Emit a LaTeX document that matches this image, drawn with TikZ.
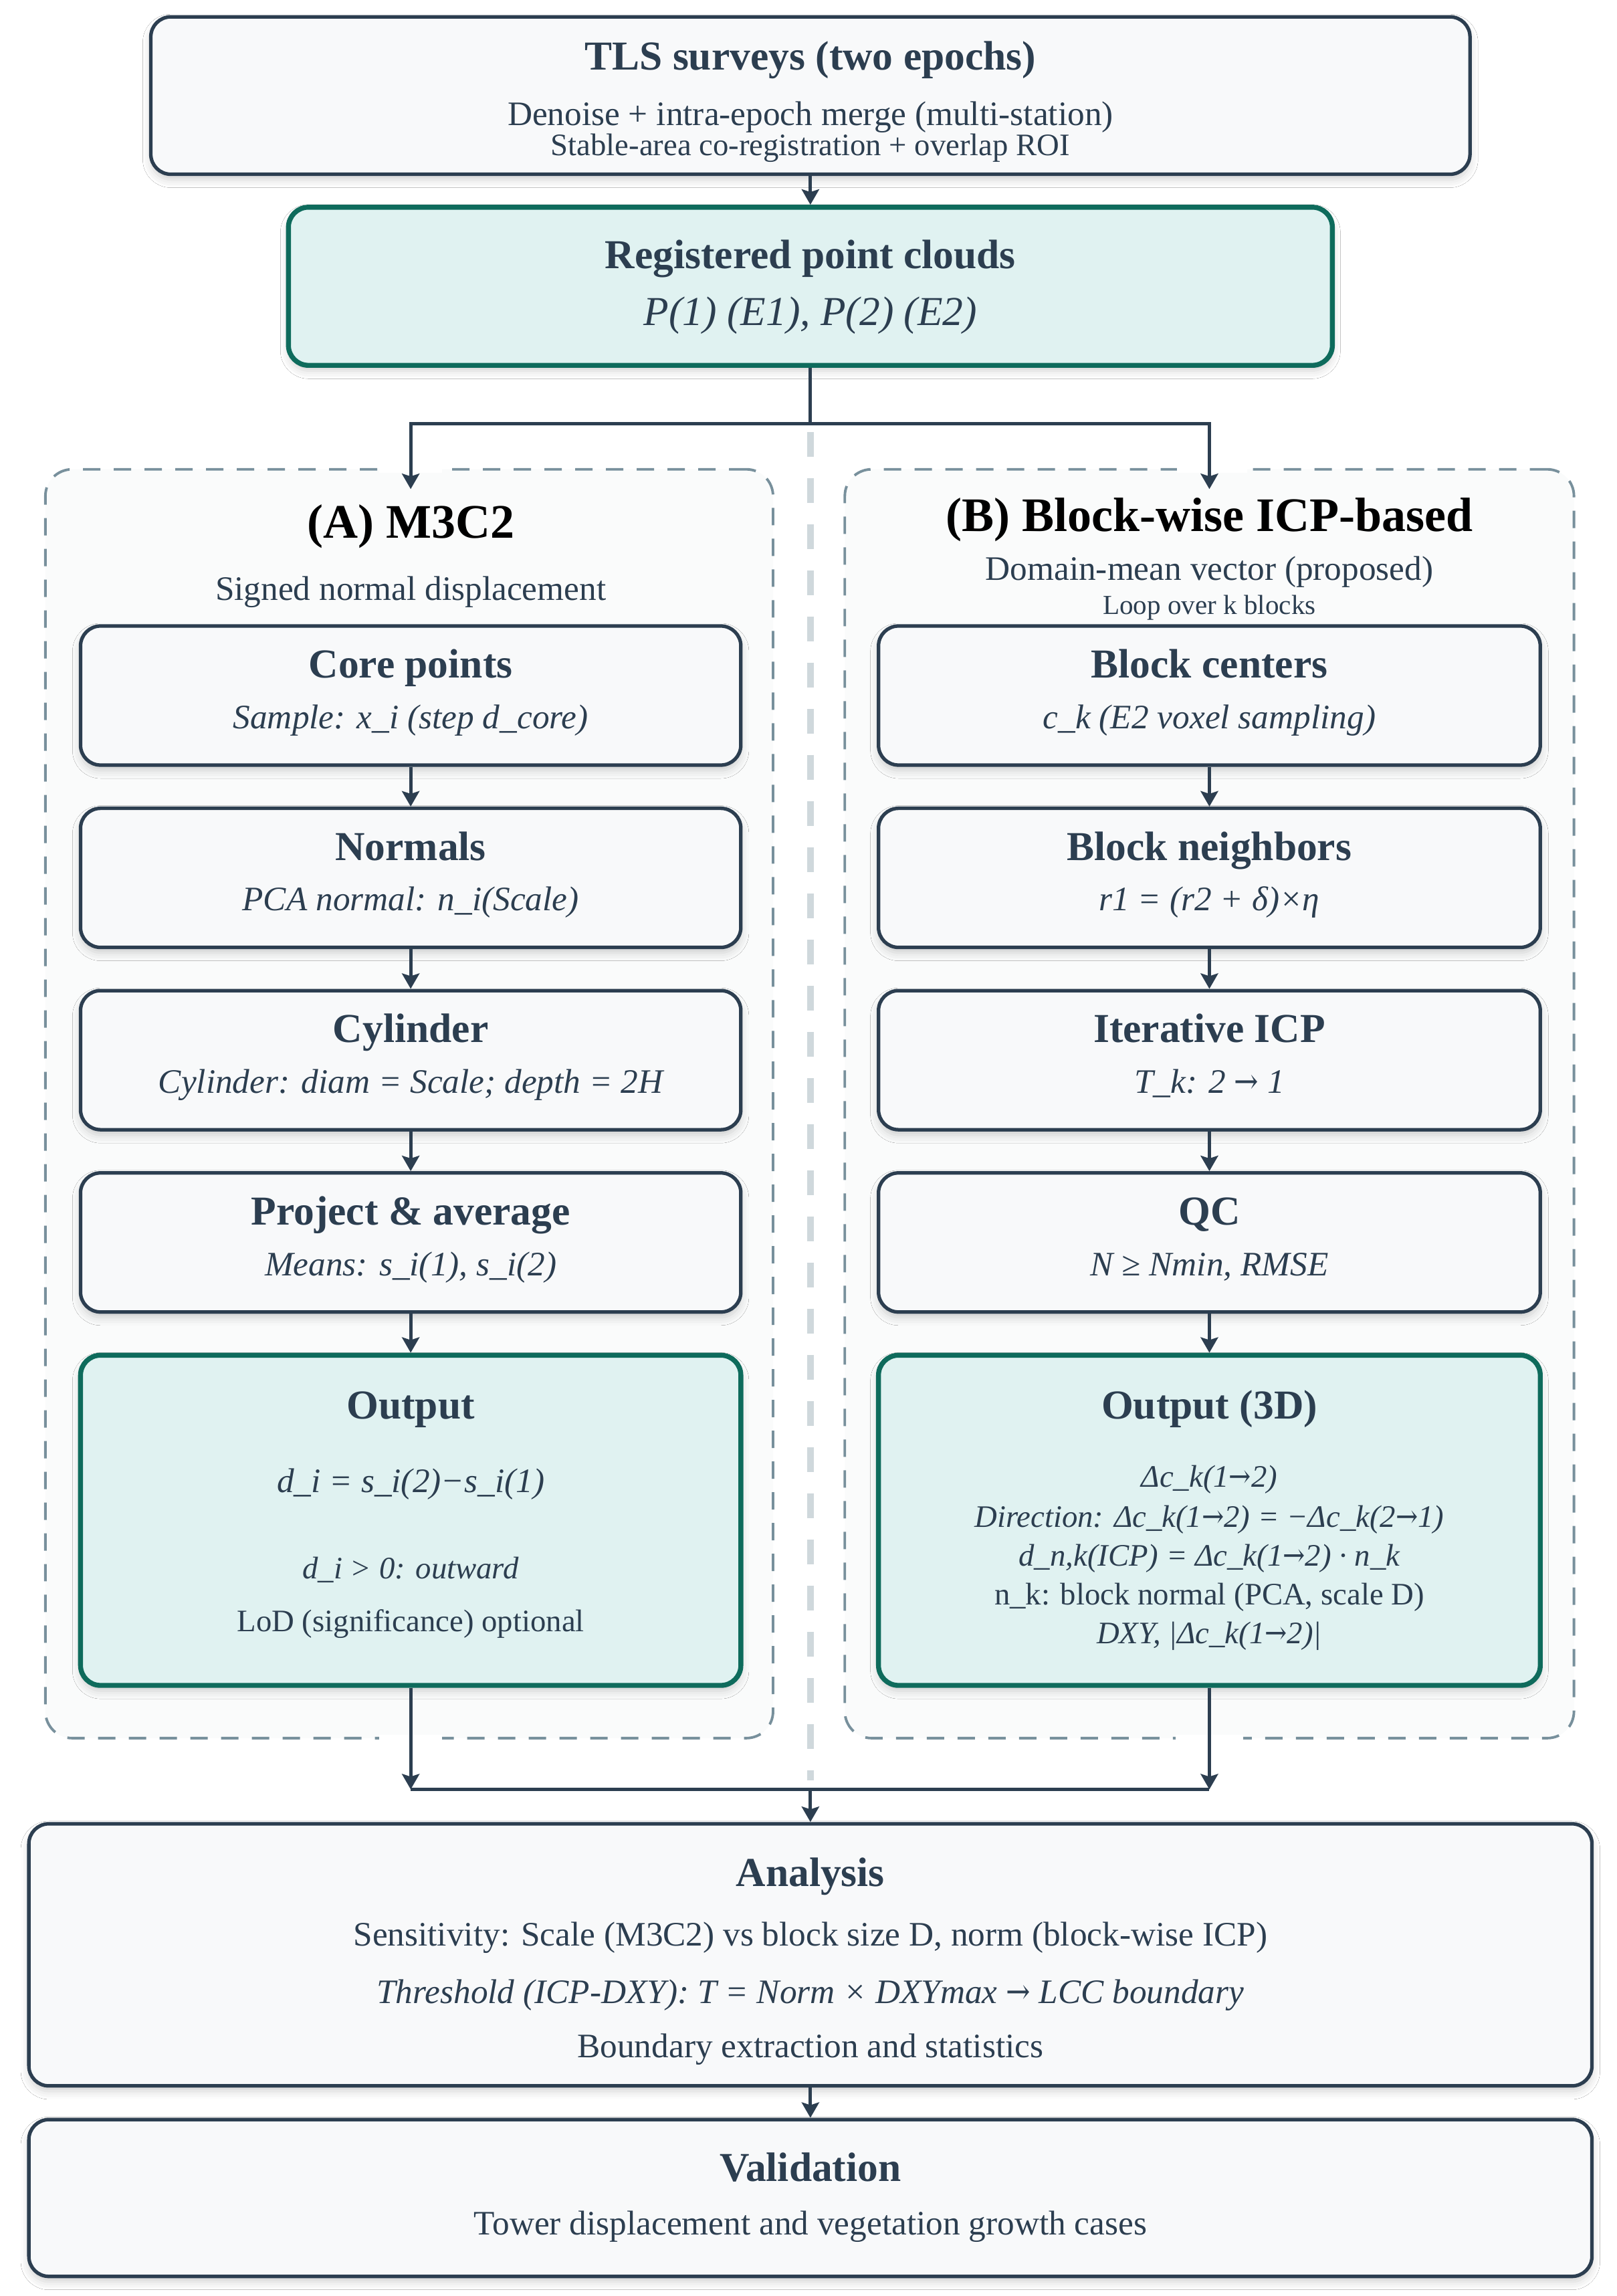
\documentclass[tikz,border=0pt]{standalone}
\usepackage{fontspec}
\setmainfont{Liberation Serif}
\newfontfamily\arrfont{DejaVu Serif}
\usetikzlibrary{arrows.meta,fit,shadows.blur}
\definecolor{navy}{HTML}{2C3E50}
\definecolor{tealb}{HTML}{0E6B5C}
\definecolor{tealf}{HTML}{E0F2F1}
\definecolor{boxf}{HTML}{F8F9FA}
\definecolor{grpf}{HTML}{FAFBFB}
\definecolor{grpd}{HTML}{78909C}
\definecolor{sepc}{HTML}{CFD8DC}
\newcommand\fTitle{\fontsize{17.5}{21}\selectfont\bfseries}
\newcommand\fGroup{\fontsize{20.5}{24}\selectfont\bfseries}
\newcommand\fSub{\fontsize{14.6}{17.5}\selectfont}
\newcommand\fSmall{\fontsize{13.3}{16}\selectfont}
\newcommand\fTiny{\fontsize{11.7}{14}\selectfont}
\newcommand\ra{{\arrfont\upshape\scalebox{0.85}[1]{→}}}
\begin{document}
\begin{tikzpicture}[x=0.021902cm,y=-0.021902cm,
  box/.style={draw=navy, line width=1.5pt, fill=boxf, rounded corners=0.3cm, inner sep=0pt,
    blur shadow={shadow xshift=0pt, shadow yshift=-0.08cm, shadow blur radius=0.12cm, shadow opacity=18}},
  tbox/.style={box, draw=tealb, fill=tealf, line width=2.1pt},
  grp/.style={draw=grpd, fill=grpf, line width=1.1pt, dash pattern=on 0.26cm off 0.2cm, rounded corners=0.4cm, inner sep=0pt},
  sep/.style={draw=sepc, line width=2.8pt, dash pattern=on 0.37cm off 0.32cm},
  conn/.style={draw=navy, line width=1.4pt},
  arr/.style={conn, -{Stealth[length=0.23cm,width=0.26cm,inset=0.04cm]}},
  gapc/.style={draw=white, line width=3pt},
  t/.style={anchor=base, inner sep=0pt, text=navy},
  gt/.style={anchor=base, inner sep=0pt, text=black},
]
\useasboundingbox (0,0) rectangle (1104,1568);
\fill[white] (0,0) rectangle (1104,1568);

% groups
\node[grp, fit={(31,320.5) (528,1187)}] (grpA) {};
\node[grp, fit={(577,320.5) (1075,1187)}] (grpB) {};
\draw[gapc] (259,320.5) -- (302,320.5);
\draw[gapc] (804,320.5) -- (852,320.5);
\draw[gapc] (259,1187) -- (302,1187);
\draw[gapc] (803,1187) -- (849,1187);
\draw[sep] (553.5,295) -- (553.5,1216);

% top boxes
\node[box, fit={(103,11.5) (1004,119)}] (tls) {};
\node[t] (tlsT) at (553.5,47.5) {\fTitle TLS surveys (two epochs)};
\node[t] (tlsS1) at (553.5,85.6) {\fSub Denoise + intra-epoch merge (multi-station)};
\node[t] (tlsS2) at (553.5,106) {\fSmall Stable-area co-registration + overlap ROI};

\node[tbox, fit={(197,141.5) (910,249.5)}] (reg) {};
\node[t] (regT) at (553.5,183.5) {\fTitle Registered point clouds};
\node[t] (regS) at (553.5,222) {\fontsize{17.5}{21}\selectfont\itshape P(1) (E1), P(2) (E2)};

% group titles
\node[gt] (gAT) at (280.5,367.5) {\fGroup (A) M3C2};
\node[t] (gAS) at (280.5,410) {\fSub Signed normal displacement};
\node[gt] (gBT) at (826,363) {\fGroup (B) Block-wise ICP-based};
\node[t] (gBS) at (826,396) {\fSub Domain-mean vector (proposed)};
\node[t] (gBL) at (826,419.5) {\fTiny Loop over k blocks};

% left column
\node[box, fit={(55,427.5) (506,522.5)}] (a1) {};
\node[t] (a1T) at (280.5,463) {\fTitle Core points};
\node[t] (a1S) at (280.5,497.5) {\fSub\itshape Sample: x\_i (step d\_core)};
\node[box, fit={(55,552) (506,647)}] (a2) {};
\node[t] (a2T) at (280.5,587.5) {\fTitle Normals};
\node[t] (a2S) at (280.5,622) {\fSub\itshape PCA normal: n\_i(Scale)};
\node[box, fit={(55,676.5) (506,771.5)}] (a3) {};
\node[t] (a3T) at (280.5,712) {\fTitle Cylinder};
\node[t] (a3S) at (280.5,746.5) {\fSub\itshape Cylinder: diam = Scale; depth = 2H};
\node[box, fit={(55,801) (506,896)}] (a4) {};
\node[t] (a4T) at (280.5,836.5) {\fTitle Project \& average};
\node[t] (a4S) at (280.5,871) {\fSub\itshape Means: s\_i(1), s\_i(2)};
\node[tbox, fit={(55,925.5) (506,1151)}] (outA) {};
\node[t] (oAT) at (280.5,969) {\fTitle Output};
\node[t] (oA1) at (280.5,1019) {\fSub\itshape d\_i = s\_i(2)−s\_i(1)};
\node[t] (oA2) at (280.5,1078) {\fSmall\itshape d\_i > 0: outward};
\node[t] (oA3) at (280.5,1114) {\fSmall LoD (significance) optional};

% right column
\node[box, fit={(600,427.5) (1052,522.5)}] (b1) {};
\node[t] (b1T) at (826,463) {\fTitle Block centers};
\node[t] (b1S) at (826,497.5) {\fSub\itshape c\_k (E2 voxel sampling)};
\node[box, fit={(600,552) (1052,647)}] (b2) {};
\node[t] (b2T) at (826,587.5) {\fTitle Block neighbors};
\node[t] (b2S) at (826,622) {\fSub\itshape r1 = (r2 + δ)×η};
\node[box, fit={(600,676.5) (1052,771.5)}] (b3) {};
\node[t] (b3T) at (826,712) {\fTitle Iterative ICP};
\node[t] (b3S) at (826,746.5) {\fSub\itshape T\_k: 2 \ra{} 1};
\node[box, fit={(600,801) (1052,896)}] (b4) {};
\node[t] (b4T) at (826,836.5) {\fTitle QC};
\node[t] (b4S) at (826,871) {\fSub\itshape N ≥ Nmin, RMSE};
\node[tbox, fit={(600,925.5) (1052,1151)}] (outB) {};
\node[t] (oBT) at (826,969) {\fTitle Output (3D)};
\node[t] (oB1) at (826,1015.6) {\fSmall\itshape Δc\_k(1\ra2)};
\node[t] (oB2) at (826,1043) {\fSmall\itshape Direction: Δc\_k(1\ra2) = −Δc\_k(2\ra1)};
\node[t] (oB3) at (826,1069.5) {\fSmall\itshape d\_n,k(ICP) = Δc\_k(1\ra2) · n\_k};
\node[t] (oB4) at (826,1096) {\fSmall n\_k: block normal (PCA, scale D)};
\node[t] (oB5) at (826,1122.5) {\fSmall\itshape DXY, |Δc\_k(1\ra2)|};

% bottom boxes
\node[box, fit={(19.7,1245.5) (1087.3,1424.5)}] (ana) {};
\node[t] (anT) at (553.5,1288) {\fTitle Analysis};
\node[t] (an1) at (553.5,1329) {\fSub Sensitivity: Scale (M3C2) vs block size D, norm (block-wise ICP)};
\node[t] (an2) at (553.5,1368) {\fSub\itshape Threshold (ICP-DXY): T = Norm × DXYmax \ra{} LCC boundary};
\node[t] (an3) at (553.5,1405) {\fSub Boundary extraction and statistics};
\node[box, fit={(19.7,1447.5) (1087.3,1554.6)}] (val) {};
\node[t] (vaT) at (553.5,1489.5) {\fTitle Validation};
\node[t] (va1) at (553.5,1526) {\fSub Tower displacement and vegetation growth cases};

% connectors
\coordinate (split) at (553.5,289.5);
\coordinate (inA) at (280.5,334);
\coordinate (inB) at (826,334);
\coordinate (joinA) at (280.5,1222);
\coordinate (joinB) at (826,1222);
\coordinate (join) at (553.5,1222);
\draw[arr] (tls.south) -- (reg.north);
\draw[conn] (reg.south) -- (split);
\draw[arr] (split) -| (inA);
\draw[arr] (split) -| (inB);
\draw[arr] (a1.south) -- (a2.north);
\draw[arr] (a2.south) -- (a3.north);
\draw[arr] (a3.south) -- (a4.north);
\draw[arr] (a4.south) -- (outA.north);
\draw[arr] (b1.south) -- (b2.north);
\draw[arr] (b2.south) -- (b3.north);
\draw[arr] (b3.south) -- (b4.north);
\draw[arr] (b4.south) -- (outB.north);
\draw[conn] (joinA) -- (joinB);
\draw[arr] (outA.south) -- (joinA);
\draw[arr] (outB.south) -- (joinB);
\draw[arr] (join) -- (ana.north);
\draw[arr] (ana.south) -- (val.north);
\end{tikzpicture}
\end{document}
